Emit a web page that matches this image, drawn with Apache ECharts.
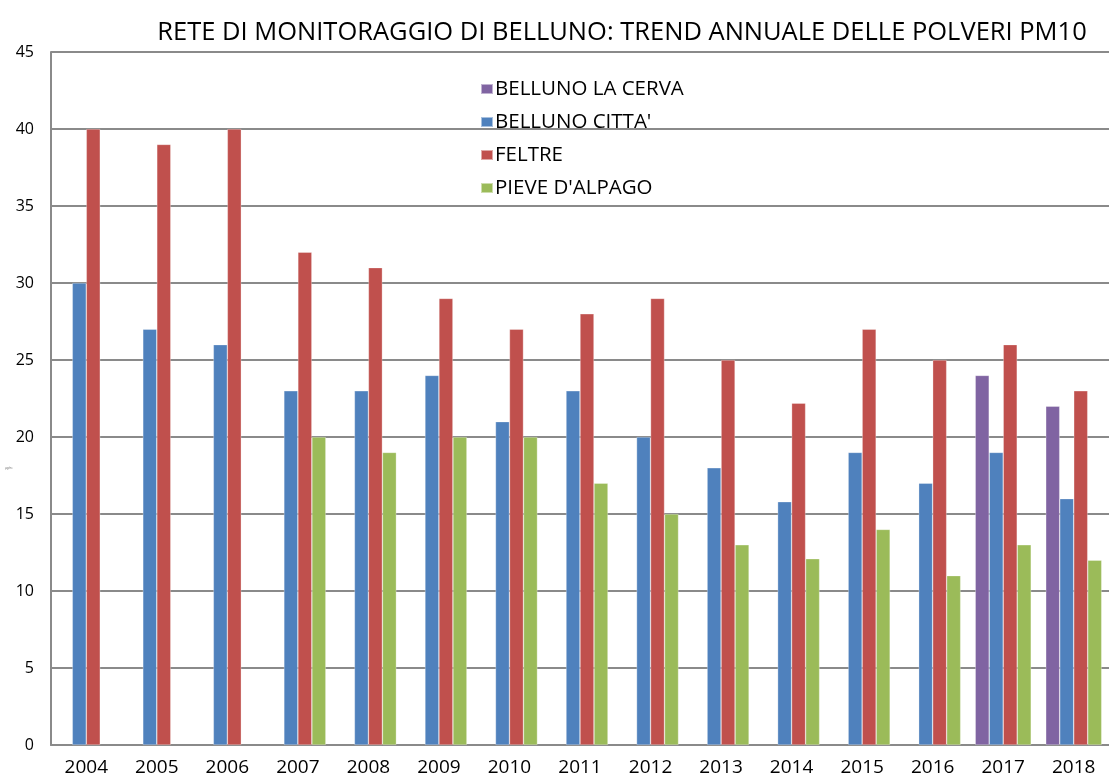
<!DOCTYPE html>
<html>
<head>
<meta charset="utf-8">
<script src="https://cdn.jsdelivr.net/npm/echarts@6/dist/echarts.min.js"></script>
<style>
  html, body { margin: 0; padding: 0; background: #fff; }
  #chart { width: 1109px; height: 781px; }
</style>
</head>
<body>
<div id="chart"></div>
<script>
// data
const years = ['2004', '2005', '2006', '2007', '2008', '2009', '2010', '2011', '2012', '2013', '2014', '2015', '2016', '2017', '2018'];
const laCerva = [null, null, null, null, null, null, null, null, null, null, null, null, null, 24, 22];
const bellunoCitta = [30, 27, 26, 23, 23, 24, 21, 23, 20, 18, 15.8, 19, 17, 19, 16];
const feltre = [40, 39, 40, 32, 31, 29, 27, 28, 29, 25, 22.2, 27, 25, 26, 23];
const pieveAlpago = [null, null, null, 20, 19, 20, 20, 17, 15, 13, 12.1, 14, 11, 13, 12];
const yTicks = [0, 5, 10, 15, 20, 25, 30, 35, 40, 45];

const font = 'Open Sans';
const grey = '#8a8a8a';

const chart = echarts.init(document.getElementById('chart'));

function bar(name, data, color) {
  return {
    name: name,
    type: 'bar',
    data: data,
    barWidth: 14,
    barGap: '0%',
    itemStyle: { color: color, borderColor: 'rgba(255,255,255,0.5)', borderWidth: 0.6 },
    emphasis: { disabled: true }
  };
}

chart.setOption({
  animation: false,
  title: {
    text: 'RETE DI MONITORAGGIO DI BELLUNO: TREND ANNUALE DELLE POLVERI PM10',
    left: 617,
    textAlign: 'center',
    top: 15,
    textStyle: { fontFamily: font, fontSize: 25.5, fontWeight: 'normal', color: '#000' }
  },
  legend: {
    orient: 'vertical',
    left: 475,
    top: 73,
    itemWidth: 12,
    itemHeight: 10,
    itemGap: 11,
    icon: 'rect',
    textStyle: { fontFamily: font, fontSize: 20.5, lineHeight: 22, color: '#000', padding: [0, 0, 0, -3] },
    data: ['BELLUNO LA CERVA', "BELLUNO CITTA'", 'FELTRE', "PIEVE D'ALPAGO"]
  },
  grid: { left: 51, top: 52, width: 1071, height: 693, containLabel: false },
  xAxis: {
    type: 'category',
    data: years,
    axisLine: { lineStyle: { color: grey, width: 2 } },
    axisTick: { show: false },
    axisLabel: { fontFamily: font, fontSize: 19, color: '#000', margin: 13 },
    splitLine: { show: false }
  },
  yAxis: {
    type: 'value',
    min: yTicks[0],
    max: yTicks[yTicks.length - 1],
    interval: 5,
    axisLine: { show: true, lineStyle: { color: grey, width: 2 } },
    axisTick: { show: false },
    axisLabel: { fontFamily: font, fontSize: 16, color: '#000', margin: 17 },
    splitLine: { lineStyle: { color: grey, width: 2 } }
  },
  graphic: [{
    type: 'text',
    left: 5,
    top: 467,
    style: { text: 'µg/m³', fontSize: 3, fill: '#777' }
  }],
  series: [
    bar('BELLUNO LA CERVA', laCerva, '#8064A2'),
    bar("BELLUNO CITTA'", bellunoCitta, '#4F81BD'),
    bar('FELTRE', feltre, '#C0504D'),
    bar("PIEVE D'ALPAGO", pieveAlpago, '#9BBB59')
  ]
});
</script>
</body>
</html>
